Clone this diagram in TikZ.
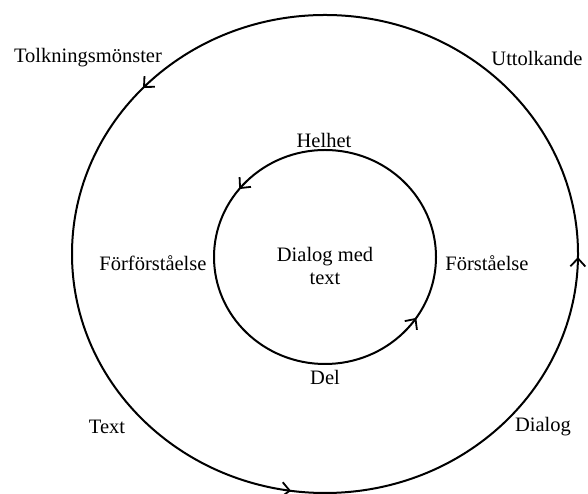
\documentclass[tikz,border=0pt]{standalone}
\usepackage{fontspec}
\setmainfont{Liberation Serif}
\usetikzlibrary{arrows.meta,decorations.markings}
\begin{document}
\begin{tikzpicture}[x=1pt,y=1pt,
  cyc/.style={line width=2pt},
  lbl/.style={font=\fontsize{20.5}{23}\selectfont, inner sep=0pt, align=center},
  tip/.style={line width=1.8pt}
]
\useasboundingbox (0,0) rectangle (588,494);
% outer cycle
\draw[cyc,
  decoration={markings,
    mark=at position 0.38 with {\arrow[tip]{Straight Barb[length=8pt,width=15pt]}},
    mark=at position 0.728 with {\arrow[tip]{Straight Barb[length=8pt,width=15pt]}},
    mark=at position 0.998 with {\arrow[tip]{Straight Barb[length=8pt,width=15pt]}}},
  postaction={decorate}]
  (325,240) ellipse [x radius=253, y radius=239];
% inner cycle
\draw[cyc,
  decoration={markings,
    mark=at position 0.392 with {\arrow[tip]{Straight Barb[length=8pt,width=15pt]}},
    mark=at position 0.905 with {\arrow[tip]{Straight Barb[length=8pt,width=15pt]}}},
  postaction={decorate}]
  (325,237) ellipse [x radius=111, y radius=107];
% labels
\node[lbl] (tolk) at (88,436) {Tolkningsmönster};
\node[lbl] (utt) at (537,436) {Uttolkande};
\node[lbl] (helhet) at (324,354) {Helhet};
\node[lbl] (forfor) at (153,231) {Förförståelse};
\node[lbl] (forst) at (487,231) {Förståelse};
\node[lbl] (dialogmed) at (325,228) {Dialog med\\text};
\node[lbl] (del) at (325,117) {Del};
\node[lbl] (text) at (107,67) {Text};
\node[lbl] (dialog) at (543,67) {Dialog};
\end{tikzpicture}
\end{document}
